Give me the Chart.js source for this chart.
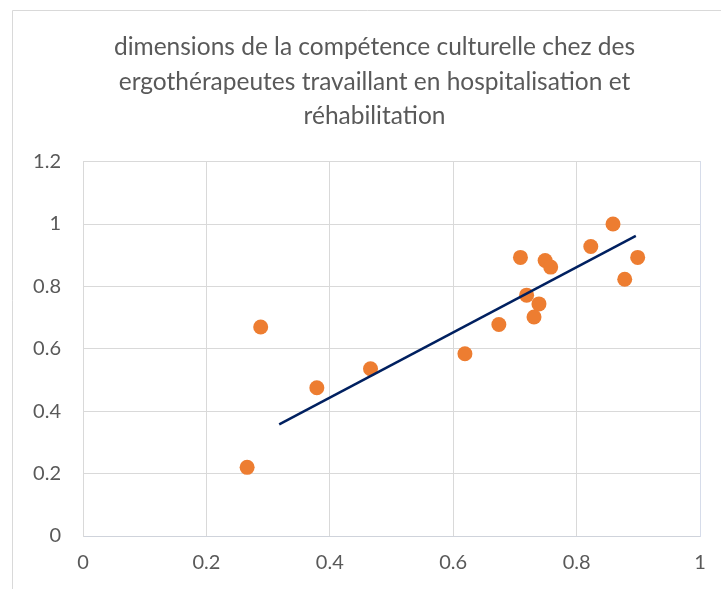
<!DOCTYPE html>
<html>
<head>
<meta charset="utf-8">
<script src="https://cdn.jsdelivr.net/npm/chart.js@4.4.0/dist/chart.umd.min.js"></script>
<style>
  html, body { margin: 0; padding: 0; background: #fff; }
  #wrap { width: 721px; height: 589px; }
</style>
</head>
<body>
<div id="wrap"><canvas id="scatterChart" width="721" height="589"></canvas></div>
<script>
// values
var xValues = [0.266, 0.288, 0.379, 0.466, 0.619, 0.674, 0.709, 0.719, 0.731, 0.739, 0.749, 0.758, 0.823, 0.859, 0.878, 0.899];
var yValues = [0.22, 0.67, 0.475, 0.536, 0.584, 0.678, 0.893, 0.772, 0.702, 0.744, 0.883, 0.862, 0.928, 1.0, 0.823, 0.893];
var trendX = [0.318, 0.896];
var trendY = [0.358, 0.962];
var xTickLabels = ['0', '0.2', '0.4', '0.6', '0.8', '1'];
var yTickLabels = ['0', '0.2', '0.4', '0.6', '0.8', '1', '1.2'];
var chartTitle = ['dimensions de la compétence culturelle chez des',
                  'ergothérapeutes travaillant en hospitalisation et',
                  'réhabilitation'];

var points = xValues.map(function (x, i) { return { x: x, y: yValues[i] }; });
var trend = trendX.map(function (x, i) { return { x: x, y: trendY[i] }; });

// light grey frame of the chart area (cut off on the right and bottom)
var frame = {
  id: 'frame',
  beforeDraw: function (chart) {
    var c = chart.ctx;
    c.save();
    c.fillStyle = '#fff';
    c.fillRect(0, 0, chart.width, chart.height);
    c.strokeStyle = '#d9d9d9';
    c.lineWidth = 1;
    c.beginPath();
    c.moveTo(12.5, chart.height + 2);
    c.lineTo(12.5, 10.5);
    c.lineTo(chart.width + 2, 10.5);
    c.stroke();
    c.restore();
  }
};

var ctx = document.getElementById('scatterChart');

var myChart = new Chart(ctx, {
  type: 'scatter',
  data: {
    datasets: [{
      type: 'line',
      label: 'Tendance',
      data: trend,
      borderColor: '#002060',
      borderWidth: 2.5,
      pointRadius: 0,
      fill: false,
      order: 0
    }, {
      label: 'Points',
      data: points,
      backgroundColor: '#ed7d31',
      borderWidth: 0,
      pointRadius: 7.5,
      order: 1
    }]
  },
  options: {
    responsive: false,
    animation: false,
    layout: { padding: { left: 30, right: 2, top: 0, bottom: 0 } },
    plugins: {
      legend: { display: false },
      tooltip: { enabled: false },
      title: {
        display: true,
        text: chartTitle,
        color: '#595959',
        font: { family: 'Lato', size: 24.5, weight: 'normal', lineHeight: 1.41 },
        padding: { top: 30, bottom: 28 }
      }
    },
    scales: {
      x: {
        type: 'linear',
        min: 0,
        max: 1,
        ticks: {
          stepSize: 0.2,
          color: '#595959',
          font: { family: 'Lato', size: 20 },
          padding: 15,
          callback: function (v, i) { return xTickLabels[i]; }
        },
        grid: { color: '#d9d9d9', drawTicks: false },
        border: { color: '#cfd3db' },
        afterFit: function (scale) { scale.height = 53; }
      },
      y: {
        min: 0,
        max: 1.2,
        ticks: {
          stepSize: 0.2,
          color: '#595959',
          font: { family: 'Lato', size: 20 },
          padding: 22,
          callback: function (v, i) { return yTickLabels[i]; }
        },
        grid: { color: '#d9d9d9', drawTicks: false },
        border: { color: '#d9d9d9' },
        afterFit: function (scale) { scale.width = 53; }
      },
      // empty right side strip so the plot ends where the reference does
      yRight: {
        position: 'right',
        min: 0,
        max: 1.2,
        ticks: { display: false },
        grid: { display: false, drawTicks: false },
        border: { display: true, color: '#d6dcea' },
        afterFit: function (scale) { scale.width = 19; }
      }
    }
  },
  plugins: [frame]
});
</script>
</body>
</html>
